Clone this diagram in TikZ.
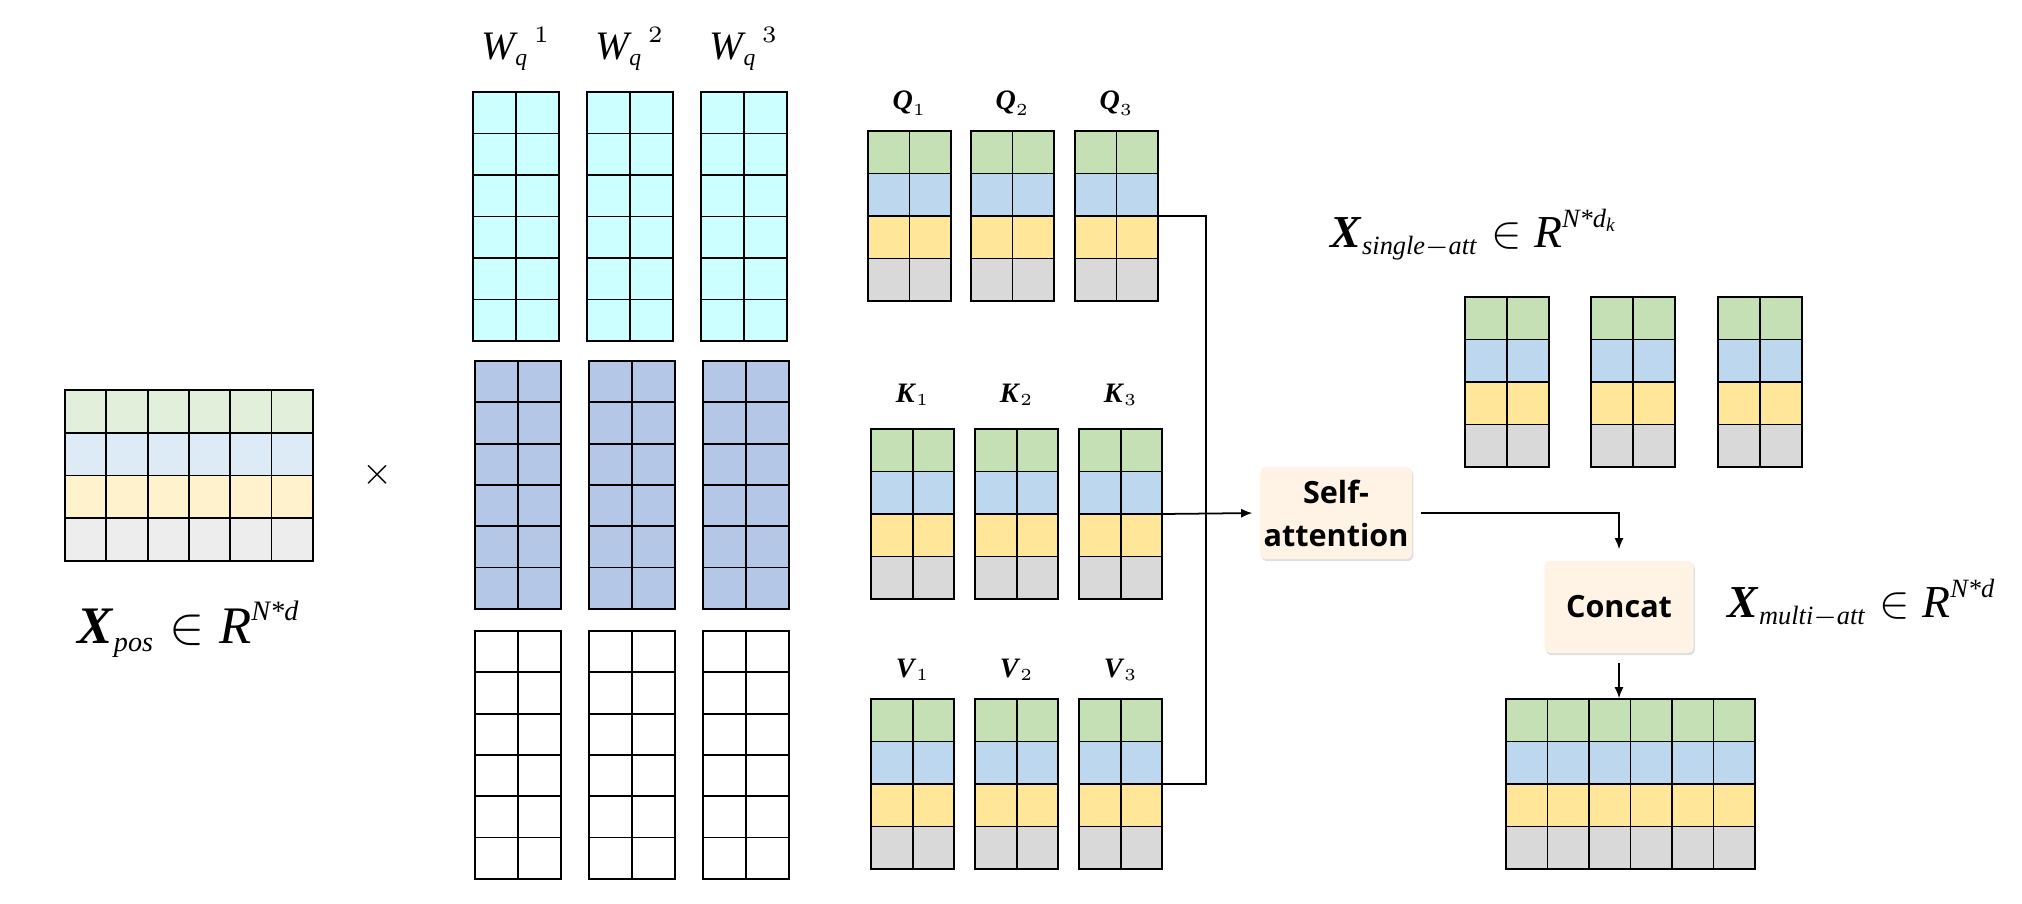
\RequirePackage{fix-cm}
\documentclass[tikz,border=0pt]{standalone}
\usepackage{amsmath}
\usepackage{fontspec}
\setmainfont{Liberation Serif}
\newfontfamily\boxfont{Open Sans}
\usetikzlibrary{arrows.meta,fit,shadows}

\DeclareMathSizes{15}{15}{8}{6.5}
\DeclareMathSizes{13}{13}{7.5}{5.5}
\DeclareMathSizes{11.5}{11.5}{6.7}{5}
\DeclareMathSizes{8}{8}{4.8}{4}

\definecolor{lgreen}{RGB}{226,239,218}
\definecolor{lblue}{RGB}{221,235,247}
\definecolor{lyellow}{RGB}{255,242,204}
\definecolor{lgray}{RGB}{237,237,237}
\definecolor{mgreen}{RGB}{197,224,180}
\definecolor{mblue}{RGB}{189,215,238}
\definecolor{myellow}{RGB}{255,230,153}
\definecolor{mgray}{RGB}{217,217,217}
\definecolor{wcyan}{RGB}{204,255,255}
\definecolor{wblue}{RGB}{180,199,231}
\definecolor{boxcream}{RGB}{254,243,228}

% #1 name, #2 left, #3 top, #4 cols, #5 rows, #6 cell width, #7 cell height, #8 row colours
\newcommand{\cellmat}[8]{%
  \foreach \rc [count=\rw from 0] in {#8}{
    \foreach \col in {1,...,#4}{
      \draw[cellline, fill=\rc] ({#2+(\col-1)*#6},{#3+\rw*#7}) rectangle ++(#6,#7);
    }
  }
  \node[fit={(#2,#3) ({#2+#4*#6},{#3+#5*#7})}, inner sep=0pt] (#1) {};
}

\begin{document}
\begin{tikzpicture}[x=0.01cm, y=-0.01cm,
    >={Latex[length=3.2pt,width=2.6pt]},
    cellline/.style={draw=black, line width=0.55pt},
    link/.style={line width=0.5pt},
    lbl/.style={inner sep=0pt, anchor=base west},
    opbox/.style={rounded corners=1.5pt, fill=boxcream, inner sep=1pt,
      minimum width=1.49cm, minimum height=0.92cm, align=center,
      font=\boxfont\bfseries\fontsize{8.7}{12.2}\selectfont,
      drop shadow={opacity=0.25, shadow xshift=0.4pt, shadow yshift=-0.6pt}}]

\useasboundingbox (0,0) rectangle (2022,904);

\cellmat{xpos}{65}{390}{6}{4}{41.3}{42.75}{lgreen,lblue,lyellow,lgray}
\node[inner sep=0pt, anchor=base] (lxpos) at ([yshift=-0.82cm]xpos.south)
  {\fontsize{15}{18}\selectfont $\textbf{\textit{X}}_{\textit{pos}}\in\textit{R}^{\textit{N*d}}$};
\node (times) at (378,475) {\fontsize{11}{13}\selectfont $\times$};

\foreach \i/\x in {1/473,2/587,3/701}{
  \cellmat{wq\i}{\x}{92}{2}{6}{43}{41.5}{wcyan,wcyan,wcyan,wcyan,wcyan,wcyan}
  \cellmat{wk\i}{\x+2}{361}{2}{6}{43}{41.3}{wblue,wblue,wblue,wblue,wblue,wblue}
  \cellmat{wv\i}{\x+2}{631}{2}{6}{43}{41.3}{white,white,white,white,white,white}
  \node[inner sep=0pt, anchor=base] (lw\i) at ([yshift=0.32cm]wq\i.north)
    {\fontsize{11.5}{14}\selectfont ${\textit{W}_{\textit{q}}}^{\,\i}$};
}

\foreach \i/\x in {1/868,2/971,3/1075}{
  \cellmat{q\i}{\x}{131}{2}{4}{41.5}{42.5}{mgreen,mblue,myellow,mgray}
  \node[inner sep=0pt, anchor=base] (lq\i) at ([yshift=0.21cm]q\i.north)
    {\fontsize{8}{10}\selectfont $\textbf{\textit{Q}}_{\i}$};
}
\foreach \i/\x in {1/871,2/975,3/1079}{
  \cellmat{k\i}{\x}{429}{2}{4}{41.7}{42.5}{mgreen,mblue,myellow,mgray}
  \node[inner sep=0pt, anchor=base] (lk\i) at ([yshift=0.26cm]k\i.north)
    {\fontsize{8}{10}\selectfont $\textbf{\textit{K}}_{\i}$};
  \cellmat{v\i}{\x}{699}{2}{4}{41.7}{42.5}{mgreen,mblue,myellow,mgray}
  \node[inner sep=0pt, anchor=base] (lv\i) at ([yshift=0.21cm]v\i.north)
    {\fontsize{8}{10}\selectfont $\textbf{\textit{V}}_{\i}$};
}

\node[opbox] (selfatt) at (1336,513) {Self-\\attention};
\node[opbox] (concat) at (1619,607) {Concat};

\coordinate (bus) at (1206,514);
\draw[link] (q3.east) -| (bus) |- (v3.east);
\draw[link,->,shorten >=0.07cm] (k3.east) -- (selfatt.west);

\node[lbl] (lsingle) at (1330,248)
  {\fontsize{13}{16}\selectfont $\textbf{\textit{X}}_{\textit{single}-\textit{att}}\in\textit{R}^{\textit{N*d}_{\textit{k}}}$};
\foreach \i/\x in {1/1465,2/1591,3/1718}{
  \cellmat{sa\i}{\x}{297}{2}{4}{42}{42.5}{mgreen,mblue,myellow,mgray}
}

\draw[link,->,shorten <=0.08cm,shorten >=0.11cm] (selfatt.east) -| (concat.north);

\node[lbl] (lmulti) at (1727,618)
  {\fontsize{13}{16}\selectfont $\textbf{\textit{X}}_{\textit{multi}-\textit{att}}\in\textit{R}^{\textit{N*d}}$};
\cellmat{multi}{1506}{699}{6}{4}{41.5}{42.5}{mgreen,mblue,myellow,mgray}
\draw[link,->,shorten <=0.09cm] (concat.south) -- (concat.south |- multi.north);

\end{tikzpicture}
\end{document}
